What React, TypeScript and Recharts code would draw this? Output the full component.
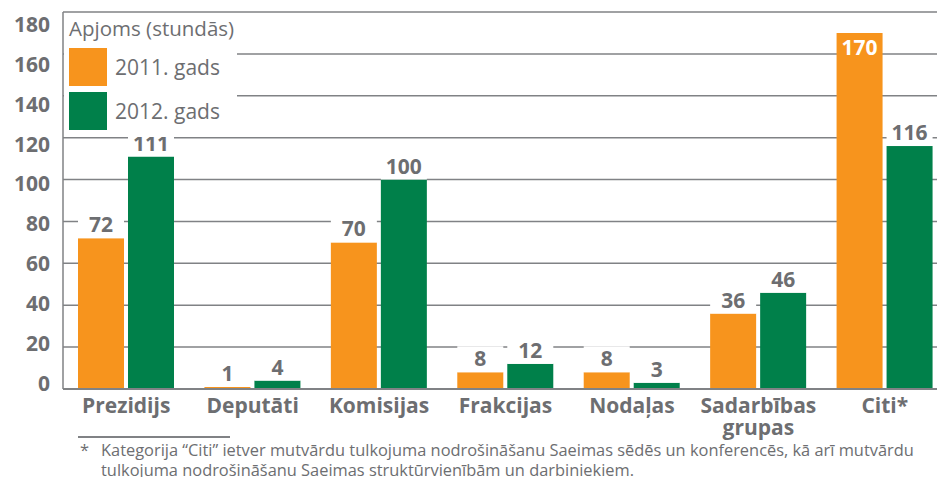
import React from 'react';
import { BarChart, Bar, XAxis, YAxis, CartesianGrid, LabelList } from 'recharts';

const categories = ['Prezidijs', 'Deputāti', 'Komisijas', 'Frakcijas', 'Nodaļas', 'Sadarbības grupas', 'Citi*'];
const values2011 = [72, 1, 70, 8, 8, 36, 170];
const values2012 = [111, 4, 100, 12, 3, 46, 116];
const yTicks = [0, 20, 40, 60, 80, 100, 120, 140, 160, 180];
const legendTitle = 'Apjoms (stundās)';
const seriesNames = ['2011. gads', '2012. gads'];
const footnoteLines = [
  'Kategorija “Citi” ietver mutvārdu tulkojuma nodrošināšanu Saeimas sēdēs un konferencēs, kā arī mutvārdu',
  'tulkojuma nodrošināšanu Saeimas struktūrvienībām un darbiniekiem.',
];

const data = categories.map((name, i) => ({ name, v2011: values2011[i], v2012: values2012[i] }));

const ORANGE = '#F7941D';
const GREEN = '#00804A';
const TEXT = '#6D6E71';
const GRID = '#808285';
const FONT = '"Open Sans", "Noto Sans", sans-serif';

const YTick = (props: any) => {
  const { x, y, payload } = props;
  const v = Number(payload.value);
  const off = -6 + v * 0.104;
  return (
    <text x={Number(x) - 13} y={Number(y) + off + 7.5} textAnchor="end" fill={TEXT}
      fontFamily={FONT} fontWeight={700} fontSize={21}>
      {payload.value}
    </text>
  );
};

const XTick = (props: any) => {
  const { x, y, payload } = props;
  const words = String(payload.value).split(' ');
  return (
    <text x={Number(x)} y={Number(y)} textAnchor="middle" fill={TEXT}
      fontFamily={FONT} fontWeight={700} fontSize={21}>
      {words.map((w, i) => (
        <tspan key={i} x={Number(x)} dy={i === 0 ? 24 : 22}>{w}</tspan>
      ))}
    </text>
  );
};

const renderLabel = (props: any) => {
  const x = Number(props.x);
  const y = Number(props.y);
  const w = Number(props.width);
  const value = props.value;
  const inside = y < 40;
  if (inside) {
    return (
      <text x={x + w / 2} y={y + 22.5} textAnchor="middle" fill="#FFFFFF"
        fontFamily={FONT} fontWeight={700} fontSize={21}>{value}</text>
    );
  }
  return (
    <g>
      <rect x={x} y={y - 26} width={w} height={26} fill="#FFFFFF" />
      <text x={x + w / 2} y={y - 6} textAnchor="middle" fill={TEXT}
        fontFamily={FONT} fontWeight={700} fontSize={21}>{value}</text>
    </g>
  );
};

export default function App() {
  return (
    <div style={{ position: 'absolute', left: 0, top: 0, width: 937, height: 477, overflow: 'hidden', background: '#fff', fontFamily: FONT }}>
      <BarChart width={952} height={477} data={data}
        margin={{ top: 12, right: 4, left: 0, bottom: 0 }} barSize={46} barGap={4}>
        <CartesianGrid vertical={false} stroke={GRID} strokeWidth={1.5} />
        <XAxis dataKey="name" interval={0} tickSize={0} tickMargin={0} height={88}
          axisLine={{ stroke: GRID, strokeWidth: 2 }} tickLine={false} tick={<XTick />} />
        <YAxis domain={[0, 180]} ticks={yTicks} width={63} tickSize={0} tickMargin={0}
          axisLine={{ stroke: GRID, strokeWidth: 1.5 }} tickLine={false} tick={<YTick />} />
        <Bar dataKey="v2011" fill={ORANGE} isAnimationActive={false}>
          <LabelList dataKey="v2011" content={renderLabel} />
        </Bar>
        <Bar dataKey="v2012" fill={GREEN} isAnimationActive={false}>
          <LabelList dataKey="v2012" content={renderLabel} />
        </Bar>
      </BarChart>

      <div style={{ position: 'absolute', left: 64, top: 13, width: 173, height: 123.5, background: '#fff' }} />
      <div style={{ position: 'absolute', left: 69, top: 13, fontSize: 20.5, color: TEXT, whiteSpace: 'nowrap', lineHeight: '30px' }}>{legendTitle}</div>
      {seriesNames.map((s, i) => (
        <div key={s} style={{ position: 'absolute', left: 69, top: 48 + i * 44, height: 38, display: 'flex', alignItems: 'center' }}>
          <div style={{ width: 38, height: 38, background: i === 0 ? ORANGE : GREEN }} />
          <div style={{ marginLeft: 8, fontSize: 21, color: TEXT, whiteSpace: 'nowrap' }}>{s}</div>
        </div>
      ))}

      <div style={{ position: 'absolute', left: 78, top: 436, width: 152, height: 1.5, background: GRID }} />
      <div style={{ position: 'absolute', left: 80, top: 440, fontSize: 16.4, color: TEXT, lineHeight: '19.5px' }}>*</div>
      <div style={{ position: 'absolute', left: 101, top: 440, fontSize: 16.4, color: TEXT, whiteSpace: 'nowrap', lineHeight: '19.5px' }}>
        {footnoteLines[0]}<br />{footnoteLines[1]}
      </div>
    </div>
  );
}
